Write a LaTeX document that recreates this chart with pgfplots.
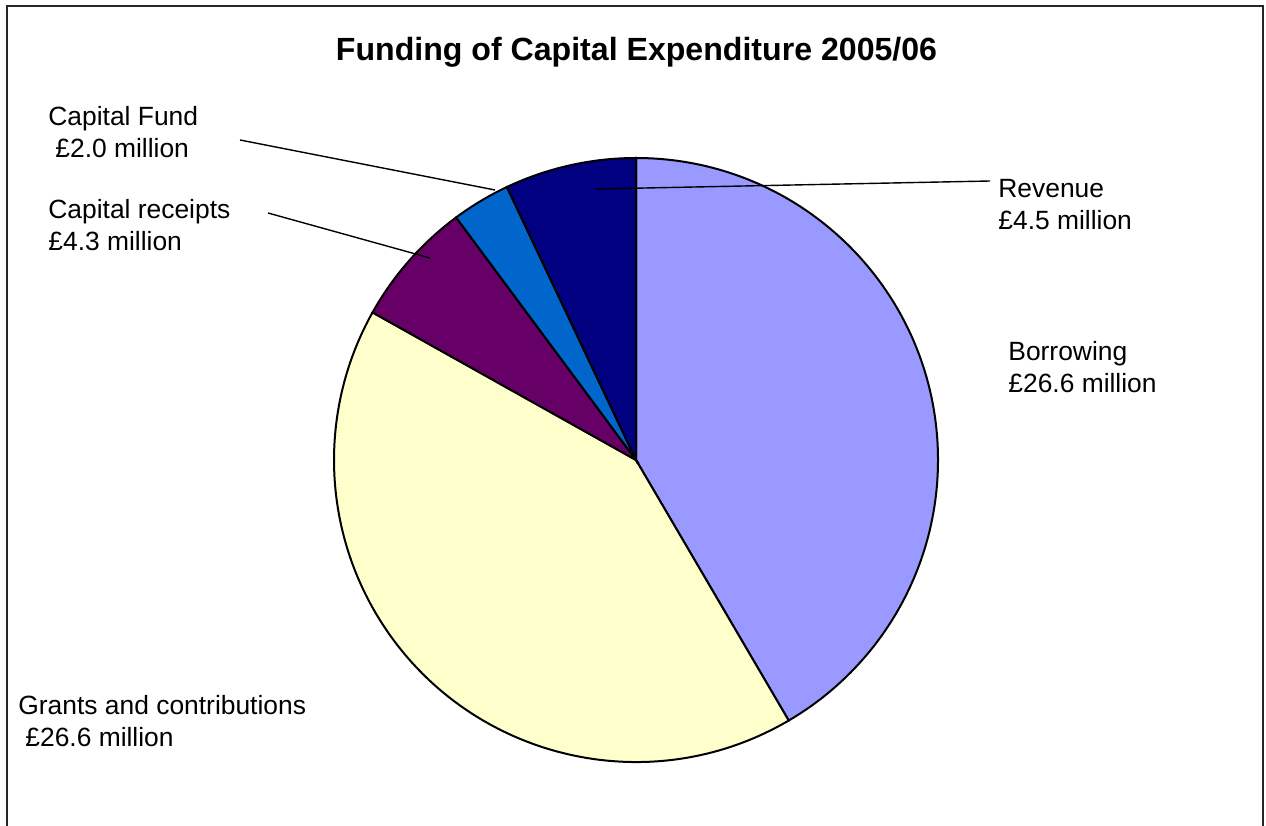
\documentclass[border=0pt]{standalone}
\usepackage{pgfplots}
\usepackage{pgfplotstable}
\pgfplotsset{compat=1.18}
\usepackage{fontspec}
\setmainfont{Liberation Sans}

\definecolor{cBor}{HTML}{9999FF}
\definecolor{cGra}{HTML}{FFFFCC}
\definecolor{cRec}{HTML}{660066}
\definecolor{cFun}{HTML}{0066CC}
\definecolor{cRev}{HTML}{000080}

% values in GBP million, in Excel order (clockwise from 12 o'clock)
\pgfplotstableread{
label value
Borrowing 26.6
Grants 26.6
Receipts 4.3
Fund 2.0
Revenue 4.5
}\piedata

\pgfplotstablegetelem{0}{value}\of\piedata \pgfmathsetmacro\vA{\pgfplotsretval}
\pgfplotstablegetelem{1}{value}\of\piedata \pgfmathsetmacro\vB{\pgfplotsretval}
\pgfplotstablegetelem{2}{value}\of\piedata \pgfmathsetmacro\vC{\pgfplotsretval}
\pgfplotstablegetelem{3}{value}\of\piedata \pgfmathsetmacro\vD{\pgfplotsretval}
\pgfplotstablegetelem{4}{value}\of\piedata \pgfmathsetmacro\vE{\pgfplotsretval}
\pgfmathsetmacro\tot{\vA+\vB+\vC+\vD+\vE}
\pgfmathsetmacro\aO{90}
\pgfmathsetmacro\aA{\aO-360*\vA/\tot}
\pgfmathsetmacro\aB{\aA-360*\vB/\tot}
\pgfmathsetmacro\aC{\aB-360*\vC/\tot}
\pgfmathsetmacro\aD{\aC-360*\vD/\tot}
\pgfmathsetmacro\aE{\aD-360*\vE/\tot}

\newcommand{\lab}{\fontsize{13.2}{16}\selectfont}

\begin{document}
\begin{tikzpicture}
\begin{axis}[
  scale only axis, width=633pt, height=412.5pt,
  xmin=0, xmax=1266, ymin=0, ymax=825,
  hide axis, clip=true,
]
\path (axis cs:0,0) rectangle (axis cs:1266,825);
% frame
\draw[line width=1.3pt, black!85] (axis cs:7,-20) -- (axis cs:7,819) -- (axis cs:1263,819) -- (axis cs:1263,-20);
% title
\node[anchor=base, inner sep=0, font=\fontsize{16.05}{19}\selectfont\bfseries] at (axis cs:636.5,764) {Funding of Capital Expenditure 2005/06};
% wedges
\filldraw[fill=cBor, draw=black, line width=1pt] (axis cs:636,365) -- ([shift={(\aO:151pt)}]axis cs:636,365) arc[start angle=\aO, end angle=\aA, radius=151pt] -- cycle;
\filldraw[fill=cGra, draw=black, line width=1pt] (axis cs:636,365) -- ([shift={(\aA:151pt)}]axis cs:636,365) arc[start angle=\aA, end angle=\aB, radius=151pt] -- cycle;
\filldraw[fill=cRec, draw=black, line width=1pt] (axis cs:636,365) -- ([shift={(\aB:151pt)}]axis cs:636,365) arc[start angle=\aB, end angle=\aC, radius=151pt] -- cycle;
\filldraw[fill=cFun, draw=black, line width=1pt] (axis cs:636,365) -- ([shift={(\aC:151pt)}]axis cs:636,365) arc[start angle=\aC, end angle=\aD, radius=151pt] -- cycle;
\filldraw[fill=cRev, draw=black, line width=1pt] (axis cs:636,365) -- ([shift={(\aD:151pt)}]axis cs:636,365) arc[start angle=\aD, end angle=\aE, radius=151pt] -- cycle;
% leader lines
\draw[line width=0.7pt] (axis cs:240,685) -- (axis cs:495,635);
\draw[line width=0.7pt] (axis cs:268,612) -- (axis cs:430,567);
\draw[line width=0.7pt] (axis cs:596,636) -- (axis cs:990,644);
% labels
\node[anchor=base west, inner sep=0, font=\lab] at (axis cs:48,699) {Capital Fund};
\node[anchor=base west, inner sep=0, font=\lab] at (axis cs:55,667) {£2.0 million};
\node[anchor=base west, inner sep=0, font=\lab] at (axis cs:48,606) {Capital receipts};
\node[anchor=base west, inner sep=0, font=\lab] at (axis cs:48,574) {£4.3 million};
\node[anchor=base west, inner sep=0, font=\lab] at (axis cs:998,627) {Revenue};
\node[anchor=base west, inner sep=0, font=\lab] at (axis cs:998,595) {£4.5 million};
\node[anchor=base west, inner sep=0, font=\lab] at (axis cs:1008,464) {Borrowing};
\node[anchor=base west, inner sep=0, font=\lab] at (axis cs:1008,432) {£26.6 million};
\node[anchor=base west, inner sep=0, font=\lab] at (axis cs:18,111) {Grants and contributions};
\node[anchor=base west, inner sep=0, font=\lab] at (axis cs:25,79) {£26.6 million};
\end{axis}
\end{tikzpicture}
\end{document}
